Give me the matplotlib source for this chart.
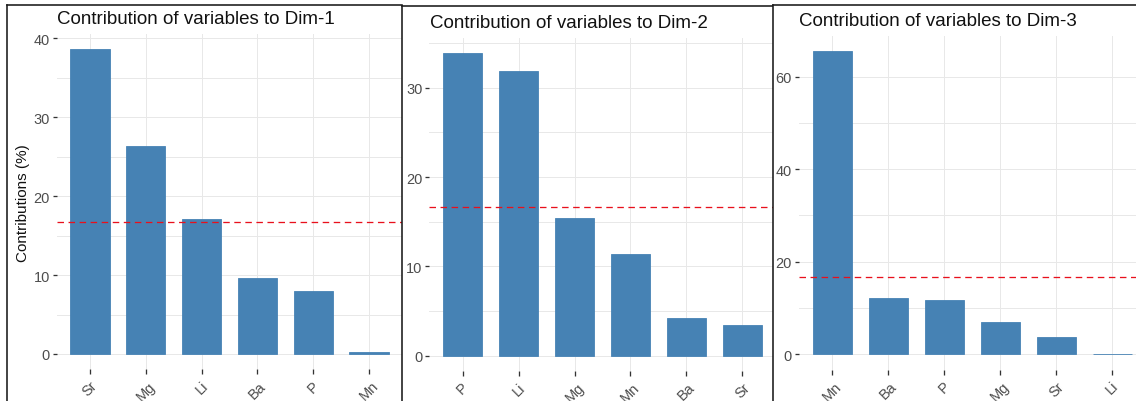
import matplotlib
matplotlib.use("Agg")
import matplotlib.pyplot as plt
from matplotlib.patches import Rectangle
from matplotlib.lines import Line2D
from matplotlib.ticker import MultipleLocator

# ---- data -------------------------------------------------------------
dim1_vars = ["Sr", "Mg", "Li", "Ba", "P", "Mn"]
dim1_contrib = [38.65, 26.3, 17.1, 9.6, 7.95, 0.3]

dim2_vars = ["P", "Li", "Mg", "Mn", "Ba", "Sr"]
dim2_contrib = [33.9, 31.9, 15.4, 11.35, 4.2, 3.45]

dim3_vars = ["Mn", "Ba", "P", "Mg", "Sr", "Li"]
dim3_contrib = [65.5, 12.15, 11.7, 6.9, 3.75, 0.1]

titles = ["Contribution of variables to Dim-1",
          "Contribution of variables to Dim-2",
          "Contribution of variables to Dim-3"]
y_label = "Contributions (%)"
y_steps = [10, 10, 20]

# expected average contribution (uniform over the variables)
expected = 100 / len(dim1_vars)

# ---- layout (pixels) --------------------------------------------------
W, H, DPI = 1136, 402, 100
PT = 72 / DPI  # points per pixel

# frame: left edge, top edge, right edge
frames = [(7, 6, 402), (402, 7, 773), (773, 6, 1136)]
# plotting region: left, top, right, bottom
boxes = [(56.5, 34.8, 402.5, 370.2),
         (429.0, 38.8, 776.0, 371.8),
         (798.5, 36.9, 1146.0, 370.5)]
title_baselines = [24, 28, 26]

BAR = "#4682B4"
GRID = "#E8E8E8"
TICK = "#333333"
TICKLAB = "#4D4D4D"
FONT = "Liberation Sans"

plt.rcParams["font.family"] = [FONT, "DejaVu Sans"]

fig = plt.figure(figsize=(W / DPI, H / DPI), dpi=DPI)
fig.patch.set_facecolor("white")


def fx(x):
    return x / W


def fy(y):
    return 1 - y / H


panels = [(dim1_vars, dim1_contrib), (dim2_vars, dim2_contrib),
          (dim3_vars, dim3_contrib)]

for i, ((names, vals), (fl, ft, fr), (l, t, r, b), step, title, tb) in enumerate(
        zip(panels, frames, boxes, y_steps, titles, title_baselines)):
    z = 3 * i
    # white panel background with left and top border
    fig.add_artist(Rectangle((fx(fl), 0), fx(fr) - fx(fl), fy(ft),
                             transform=fig.transFigure, facecolor="white",
                             edgecolor="none", zorder=z))
    fig.add_artist(Line2D([fx(fl), fx(fl)], [0, fy(ft)], transform=fig.transFigure,
                          color="#1a1a1a", lw=1.6 * PT, zorder=z + 2))
    fig.add_artist(Line2D([fx(fl), fx(fr)], [fy(ft), fy(ft)], transform=fig.transFigure,
                          color="#1a1a1a", lw=1.6 * PT, zorder=z + 2))

    ax = fig.add_axes([fx(l), fy(b), fx(r) - fx(l), fy(t) - fy(b)])
    ax.set_zorder(z + 1)
    ax.patch.set_visible(False)

    x = list(range(1, len(names) + 1))
    ax.bar(x, vals, width=0.7, color=BAR, edgecolor=BAR, linewidth=0.6, zorder=2)
    ax.axhline(expected, color="#E8101C", lw=1.3 * PT, ls=(0, (5, 3.5)), zorder=3)

    vmax = max(vals)
    ax.set_ylim(-0.05 * vmax, 1.05 * vmax)
    ax.set_xlim(0.4, len(names) + 0.6)

    ax.yaxis.set_major_locator(MultipleLocator(step))
    ax.yaxis.set_minor_locator(MultipleLocator(step / 2))
    ax.set_xticks(x)
    ax.set_xticklabels(names, rotation=45, ha="center", va="top")

    ax.set_axisbelow(True)
    ax.grid(which="major", axis="both", color=GRID, lw=1.0 * PT)
    ax.grid(which="minor", axis="y", color=GRID, lw=1.0 * PT)
    for s in ax.spines.values():
        s.set_visible(False)

    ax.tick_params(axis="both", which="major", length=4.5 * PT, width=1.3 * PT,
                   color=TICK, labelcolor=TICKLAB, labelsize=14.5 * PT, pad=2.0 * PT)
    ax.tick_params(axis="y", which="minor", length=0)
    ax.tick_params(axis="x", pad=4.5 * PT)

    fig.text(fx(l + 0.5), fy(tb), title, ha="left", va="baseline",
             fontsize=18.8 * PT, color="#111111", zorder=z + 1)

fig.text(fx(23), fy(203), y_label, rotation=90, ha="center", va="center",
         fontsize=15.3 * PT, color="#111111", zorder=1)

fig.savefig("out.png", dpi=DPI, facecolor="white")
